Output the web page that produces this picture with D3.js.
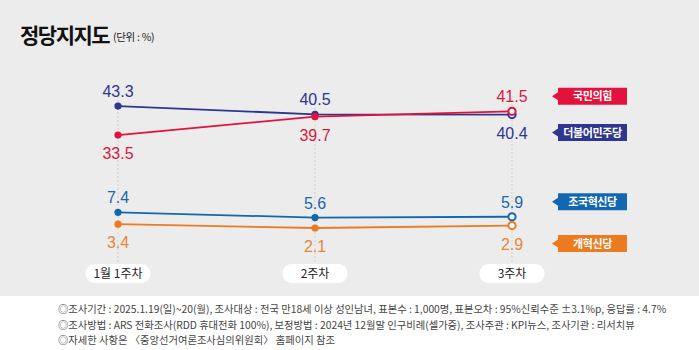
<!DOCTYPE html>
<html>
<head>
<meta charset="utf-8">
<script src="https://cdn.jsdelivr.net/npm/d3@7"></script>
<style>
  body { margin: 0; background: #ececec; }
  svg { display: block; font-family: "Noto Sans CJK KR", "Noto Sans", sans-serif; }
</style>
</head>
<body>
<div id="chart-area"></div>
<script>
let width = 699, height = 350

// data
const weeks = ["1월 1주차", "2주차", "3주차"]
const parties = ["국민의힘", "더불어민주당", "조국혁신당", "개혁신당"]
const ppp = [33.5, 39.7, 41.5]
const dp = [43.3, 40.5, 40.4]
const rebuild = [7.4, 5.6, 5.9]
const reform = [3.4, 2.1, 2.9]
const notes = [
	"◎조사기간 : 2025.1.19(일)~20(월), 조사대상 : 전국 만18세 이상 성인남녀, 표본수 : 1,000명, 표본오차 : 95%신뢰수준 ±3.1%p, 응답률 : 4.7%",
	"◎조사방법 : ARS 전화조사(RDD 휴대전화 100%), 보정방법 : 2024년 12월말 인구비례(셀가중), 조사주관 : KPI뉴스, 조사기관 : 리서치뷰",
	"◎자세한 사항은 〈중앙선거여론조사심의위원회〉 홈페이지 참조"
]

const lineColors = ["#e2123c", "#2e368f", "#1168b1", "#ec7a1f"]
const textColors = ["#d7193f", "#2e368f", "#1a67ad", "#e5873a"]

const series = [ppp, dp, rebuild, reform]
// which pairs are compared to put the label above / below
const pairs = [[0, 1], [2, 3]]

let svg = d3.select("#chart-area")
	.append("svg")
	.attr("width", width)
	.attr("height", height)

svg.append("rect").attr("width", width).attr("height", 296).attr("fill", "#ececec")
svg.append("rect").attr("y", 296).attr("width", width).attr("height", height - 296).attr("fill", "#ffffff")

// title
svg.append("text")
	.attr("x", 20).attr("y", 43)
	.attr("font-size", "21px").attr("font-weight", 700)
	.attr("letter-spacing", "-1.5px")
	.attr("fill", "#111")
	.text("정당지지도")
svg.append("text")
	.attr("x", 113).attr("y", 41)
	.attr("font-size", "10.5px")
	.attr("letter-spacing", "-0.3px")
	.attr("fill", "#222")
	.text("(단위 : %)")

let xVal = d3.scalePoint().domain(weeks).range([118, 512])
let yVal = d3.scaleLinear().domain([0, 45]).range([234.2, 101])

let g = svg.append("g")

// dotted guides
g.selectAll(".guide")
	.data(weeks)
	.enter()
	.append("line")
	.attr("x1", d => xVal(d)).attr("x2", d => xVal(d))
	.attr("y1", 96).attr("y2", 264)
	.attr("stroke", "#cfcfcf")
	.attr("stroke-dasharray", "2,2")

// week pills
let pill = g.selectAll(".pill")
	.data(weeks)
	.enter()
	.append("g")
	.attr("transform", d => "translate(" + xVal(d) + ",264)")
pill.append("rect")
	.attr("x", -32.5).attr("width", 65).attr("height", 19).attr("rx", 9)
	.attr("fill", "#fff")
pill.append("text")
	.attr("y", 14)
	.attr("text-anchor", "middle")
	.attr("font-size", "12px")
	.attr("fill", "#222")
	.text(d => d)

// label above or below
let above = series.map(() => [])
pairs.forEach(([a, b]) => {
	weeks.forEach((w, i) => {
		above[a][i] = series[a][i] >= series[b][i]
		above[b][i] = !above[a][i]
	})
})

let line = d3.line()
	.x((d, i) => xVal(weeks[i]))
	.y(d => yVal(d))

// draw order so the red line sits on top near the crossing
const order = [1, 0, 2, 3]
order.forEach(k => {
	let s = series[k]
	g.append("path")
		.attr("d", line(s))
		.attr("fill", "none")
		.attr("stroke", lineColors[k])
		.attr("stroke-width", 1.8)
})
order.forEach(k => {
	let s = series[k]
	g.selectAll(null)
		.data(s)
		.enter()
		.append("circle")
		.attr("cx", (d, i) => xVal(weeks[i]))
		.attr("cy", d => yVal(d))
		.attr("r", 3.6)
		.attr("fill", (d, i) => i == s.length - 1 ? "#fff" : lineColors[k])
		.attr("stroke", lineColors[k])
		.attr("stroke-width", (d, i) => i == s.length - 1 ? 2 : 0)

	g.selectAll(null)
		.data(s)
		.enter()
		.append("text")
		.attr("x", (d, i) => xVal(weeks[i]))
		.attr("y", (d, i) => yVal(d) + (above[k][i] ? -9 : 24))
		.attr("text-anchor", "middle")
		.attr("font-size", "16px")
		.attr("font-family", "'Liberation Sans', Arial, sans-serif")
		.attr("fill", textColors[k])
		.text(d => d.toFixed(1))
})

// party tags beside the last values
parties.forEach((p, k) => {
	let last = series[k].length - 1
	let cy = yVal(series[k][last]) + (above[k][last] ? -9 : 24) - 6
	let tag = g.append("g").attr("transform", "translate(552," + cy + ")")
	tag.append("path")
		.attr("d", "M0,0 L6,-4 L6,-8.5 L75,-8.5 L75,8.5 L6,8.5 L6,4 Z")
		.attr("fill", lineColors[k])
	tag.append("text")
		.attr("x", 40.5).attr("y", 4)
		.attr("text-anchor", "middle")
		.attr("font-size", "11px")
		.attr("font-weight", 700)
		.attr("letter-spacing", "-0.4px")
		.attr("fill", "#fff")
		.text(p)
})

// footer notes
svg.selectAll(".note")
	.data(notes)
	.enter()
	.append("text")
	.attr("x", 58)
	.attr("y", (d, i) => 313 + i * 15.5)
	.attr("font-size", "10.3px")
	.attr("fill", "#444")
	.text(d => d)
</script>
</body>
</html>
